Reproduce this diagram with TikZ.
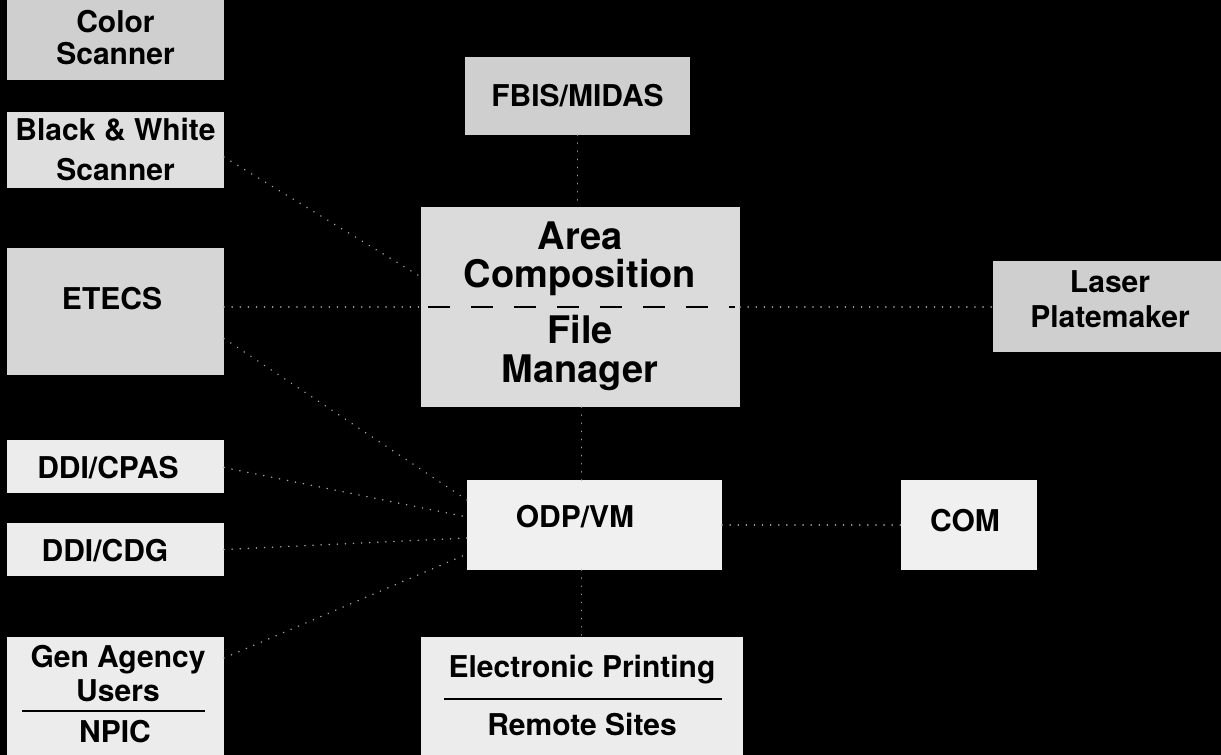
\documentclass[tikz,border=0pt]{standalone}
\usepackage{fontspec}
\setmainfont{TeX Gyre Heros}
\begin{document}
\begin{tikzpicture}[x=1pt,y=-1pt,
  box/.style={draw=none, fill=#1, inner sep=0pt, outer sep=0pt},
  lbl/.style={anchor=base, inner sep=0pt, text=black, font=\bfseries\fontsize{30}{32}\selectfont},
  big/.style={anchor=base, inner sep=0pt, text=black, font=\bfseries\fontsize{38}{40}\selectfont},
  conn/.style={draw=gray!70, line width=1.6pt, line cap=round, dash pattern=on 0.1pt off 8pt},
  rule/.style={draw=black, line width=2.8pt}]
\fill[black] (0,0) rectangle (1221,755);
\useasboundingbox (0,0) rectangle (1221,755);
% boxes
\node[box=gray!38, minimum width=217pt, minimum height=80pt] (color) at (115.5,40) {};
\node[box=gray!25, minimum width=217pt, minimum height=76pt] (bw) at (115.5,150) {};
\node[box=gray!32, minimum width=217pt, minimum height=127pt] (etecs) at (115.5,311.5) {};
\node[box=gray!15, minimum width=217pt, minimum height=53pt] (cpas) at (115.5,466.5) {};
\node[box=gray!15, minimum width=217pt, minimum height=53pt] (cdg) at (115.5,549.5) {};
\node[box=gray!15, minimum width=217pt, minimum height=118pt] (gen) at (115.5,696) {};
\node[box=gray!38, minimum width=225pt, minimum height=78pt] (fbis) at (577.5,96) {};
\node[box=gray!28, minimum width=319pt, minimum height=200pt] (acfm) at (580.5,307) {};
\node[box=gray!12, minimum width=255pt, minimum height=90pt] (odp) at (594.5,525) {};
\node[box=gray!15, minimum width=322pt, minimum height=118pt] (ep) at (582,696) {};
\node[box=gray!38, minimum width=228pt, minimum height=91pt] (laser) at (1107,306.5) {};
\node[box=gray!12, minimum width=136pt, minimum height=90pt] (com) at (969,525) {};
% labels
\node[lbl] (colorA) at (115.5,32) {Color};
\node[lbl] (colorB) at (115.5,64) {Scanner};
\node[lbl] (bwA) at (115.5,140) {Black \& White};
\node[lbl] (bwB) at (115.5,180) {Scanner};
\node[lbl] (etecsA) at (112,309) {ETECS};
\node[lbl] (cpasA) at (108,478) {DDI/CPAS};
\node[lbl] (cdgA) at (105,561) {DDI/CDG};
\node[lbl] (genA) at (118,667) {Gen Agency};
\node[lbl] (genB) at (118,701) {Users};
\node[lbl] (genC) at (115,742) {NPIC};
\node[lbl] (fbisA) at (577.5,106) {FBIS/MIDAS};
\node[big] (acA) at (580,249) {Area};
\node[big] (acB) at (580,287) {Composition};
\node[big] (acC) at (580,343) {File};
\node[big] (acD) at (580,382) {Manager};
\node[lbl] (odpA) at (575,527) {ODP/VM};
\node[lbl] (comA) at (965,531) {COM};
\node[lbl] (epA) at (582,677) {Electronic Printing};
\node[lbl] (epB) at (582,735) {Remote Sites};
\node[lbl] (laserA) at (1110,292) {Laser};
\node[lbl] (laserB) at (1110,327) {Platemaker};
% inner rules
\draw[rule, dash pattern=on 22pt off 21pt] (428,307) -- (735,307);
\draw[rule] (22,711) -- (205,711);
\draw[rule] (444,699) -- (722,699);
% connectors
\draw[conn] ([yshift=-7pt]bw.east) -- ([yshift=30pt]acfm.west);
\draw[conn] (etecs.east |- acfm.west) -- (acfm.west);
\draw[conn] (acfm.east) -- (laser.west |- acfm.east);
\draw[conn] (fbis.south) -- (fbis.south |- acfm.north);
\draw[conn] ([xshift=1pt]acfm.south) -- ([xshift=1pt]acfm.south |- odp.north);
\draw[conn] ([xshift=1pt]acfm.south |- odp.south) -- ([xshift=1pt]acfm.south |- ep.north);
\draw[conn] (odp.east) -- (com.west);
\draw[conn] ([yshift=-27pt]etecs.east) -- ([yshift=25pt]odp.west);
\draw[conn] ([yshift=-1pt]cpas.east) -- ([yshift=8pt]odp.west);
\draw[conn] (cdg.east) -- ([yshift=-13pt]odp.west);
\draw[conn] ([yshift=38pt]gen.east) -- ([yshift=-29pt]odp.west);
\end{tikzpicture}
\end{document}
